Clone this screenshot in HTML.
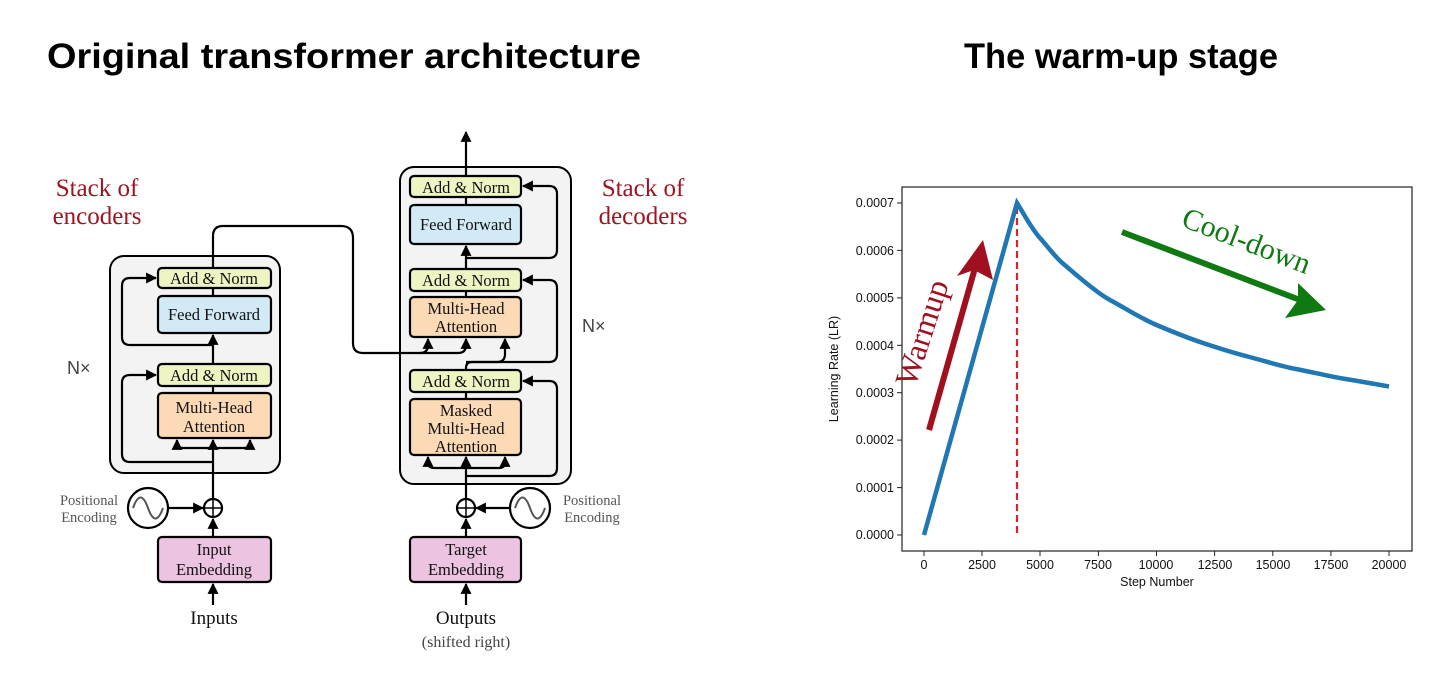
<!DOCTYPE html>
<html><head><meta charset="utf-8"><style>
html,body{margin:0;padding:0;background:#fff;width:1456px;height:681px;overflow:hidden}
svg{display:block}
.t{font-family:"Liberation Serif",serif;fill:#111}
.s{font-family:"Liberation Sans",sans-serif}
</style></head><body>
<svg width="1456" height="681" viewBox="0 0 1456 681" xmlns="http://www.w3.org/2000/svg">
<defs>
<marker id="a" viewBox="0 0 10 10" refX="9" refY="5" markerWidth="5" markerHeight="5" orient="auto"><path d="M0,0L10,5L0,10z" fill="#000"/></marker>
</defs>
<text x="344" y="68" text-anchor="middle" class="s" font-weight="bold" font-size="35" textLength="594" lengthAdjust="spacingAndGlyphs">Original transformer architecture</text>
<text x="1121" y="68" text-anchor="middle" class="s" font-weight="bold" font-size="35" textLength="314" lengthAdjust="spacingAndGlyphs">The warm-up stage</text>

<rect x="110" y="256" width="170" height="217" rx="14" fill="#f3f3f3" stroke="#000" stroke-width="2"/>
<rect x="400" y="167" width="171" height="317" rx="14" fill="#f3f3f3" stroke="#000" stroke-width="2"/>

<g fill="none" stroke="#000" stroke-width="2.2">
<line x1="213" y1="605" x2="213" y2="584" marker-end="url(#a)"/>
<line x1="213" y1="537" x2="213" y2="519" marker-end="url(#a)"/>
<line x1="168" y1="508" x2="203" y2="508" marker-end="url(#a)"/>
<line x1="213" y1="499" x2="213" y2="440" marker-end="url(#a)"/>
<path d="M213,448H183q-6,0-6,-6V440" marker-end="url(#a)"/>
<path d="M213,448H244q6,0,6,-6V440" marker-end="url(#a)"/>
<path d="M213,462H130q-8,0-8,-8V383q0,-8,8,-8H156" marker-end="url(#a)"/>
<line x1="213" y1="393" x2="213" y2="386"/>
<line x1="213" y1="363" x2="213" y2="335" marker-end="url(#a)"/>
<path d="M213,345H130q-8,0-8,-8V286q0,-8,8,-8H156" marker-end="url(#a)"/>
<line x1="213" y1="296" x2="213" y2="288"/>
<path d="M213,268V236q0,-10,10,-10H341q12,0,12,12V343q0,10,10,10H420q8,0,8,-8V339" marker-end="url(#a)"/>
<path d="M420,353H458q8,0,8,-8V339" marker-end="url(#a)"/>
<line x1="466" y1="605" x2="466" y2="584" marker-end="url(#a)"/>
<line x1="466" y1="537" x2="466" y2="519" marker-end="url(#a)"/>
<line x1="510" y1="508" x2="476" y2="508" marker-end="url(#a)"/>
<line x1="466" y1="499" x2="466" y2="457" marker-end="url(#a)"/>
<path d="M466,468H434q-6,0-6,-6V457" marker-end="url(#a)"/>
<path d="M466,468H499q6,0,6,-6V457" marker-end="url(#a)"/>
<path d="M466,476H549q8,0,8,-8V389q0,-8,-8,-8H523" marker-end="url(#a)"/>
<line x1="466" y1="399" x2="466" y2="392"/>
<path d="M466,370V368q0,-6,6,-6H497q8,0,8,-8V339" marker-end="url(#a)"/>
<path d="M466,362H549q8,0,8,-8V288q0,-8,-8,-8H523" marker-end="url(#a)"/>
<line x1="466" y1="297" x2="466" y2="291"/>
<line x1="466" y1="269" x2="466" y2="246" marker-end="url(#a)"/>
<path d="M466,258H549q8,0,8,-8V194q0,-8,-8,-8H523" marker-end="url(#a)"/>
<line x1="466" y1="205" x2="466" y2="197"/>
<line x1="466" y1="175" x2="466" y2="132" marker-end="url(#a)"/>
</g>

<g stroke="#000" stroke-width="2.2">
<rect x="158" y="268" width="113" height="20" rx="4" fill="#eff5c2"/>
<rect x="158" y="296" width="113" height="37" rx="4" fill="#d2e9f6"/>
<rect x="158" y="364" width="113" height="22" rx="4" fill="#eff5c2"/>
<rect x="158" y="393" width="113" height="45" rx="4" fill="#fcdab6"/>
<rect x="158" y="537" width="113" height="45" rx="4" fill="#edc3e2"/>
<rect x="410" y="176" width="111" height="21" rx="4" fill="#eff5c2"/>
<rect x="410" y="205" width="111" height="39" rx="4" fill="#d2e9f6"/>
<rect x="410" y="269" width="111" height="22" rx="4" fill="#eff5c2"/>
<rect x="410" y="297" width="111" height="40" rx="4" fill="#fcdab6"/>
<rect x="410" y="370" width="111" height="22" rx="4" fill="#eff5c2"/>
<rect x="410" y="399" width="111" height="56" rx="4" fill="#fcdab6"/>
<rect x="410" y="537" width="111" height="45" rx="4" fill="#edc3e2"/>
<circle cx="213" cy="508" r="9" fill="#fff"/>
<circle cx="466" cy="508" r="9" fill="#fff"/>
<circle cx="148" cy="508" r="20" fill="#fff"/>
<circle cx="530" cy="508" r="20" fill="#fff"/>
</g>
<g stroke="#000" stroke-width="1.5">
<line x1="204" y1="508" x2="222" y2="508"/><line x1="213" y1="499" x2="213" y2="517"/>
<line x1="457" y1="508" x2="475" y2="508"/><line x1="466" y1="499" x2="466" y2="517"/>
</g>
<g fill="none" stroke="#555" stroke-width="2">
<path d="M133,508c5,-14 10,-14 15,0s10,14 15,0"/>
<path d="M515,508c5,-14 10,-14 15,0s10,14 15,0"/>
</g>
<g class="t" font-size="16.5" text-anchor="middle">
<text x="214" y="284">Add &amp; Norm</text>
<text x="214" y="320">Feed Forward</text>
<text x="214" y="381">Add &amp; Norm</text>
<text x="214" y="413">Multi-Head</text><text x="214" y="432">Attention</text>
<text x="214" y="555">Input</text><text x="214" y="575">Embedding</text>
<text x="466" y="193">Add &amp; Norm</text>
<text x="466" y="230">Feed Forward</text>
<text x="466" y="286">Add &amp; Norm</text>
<text x="466" y="314">Multi-Head</text><text x="466" y="332">Attention</text>
<text x="466" y="387">Add &amp; Norm</text>
<text x="466" y="416">Masked</text><text x="466" y="434">Multi-Head</text><text x="466" y="452">Attention</text>
<text x="466" y="555">Target</text><text x="466" y="575">Embedding</text>
<text x="214" y="624" font-size="19">Inputs</text>
<text x="466" y="624" font-size="19">Outputs</text>
<text x="466" y="647" font-size="16" fill="#444">(shifted right)</text>
</g>
<g font-family="Liberation Serif,serif" font-size="14.5" fill="#555" text-anchor="middle">
<text x="89" y="505">Positional</text><text x="89" y="522">Encoding</text>
<text x="592" y="505">Positional</text><text x="592" y="522">Encoding</text>
</g>
<g class="s" font-size="18" fill="#444">
<text x="67" y="374">N×</text><text x="582" y="332">N×</text>
</g>
<g font-family="Liberation Serif,serif" font-size="25" fill="#9b1520" text-anchor="middle">
<text x="97" y="196">Stack of</text><text x="97" y="224">encoders</text>
<text x="643" y="196">Stack of</text><text x="643" y="224">decoders</text>
</g>

<rect x="902" y="187" width="510" height="364" fill="none" stroke="#222" stroke-width="1.2"/>
<g stroke="#222" stroke-width="1">
<line x1="897" y1="203" x2="902" y2="203"/><line x1="897" y1="250.4" x2="902" y2="250.4"/><line x1="897" y1="297.9" x2="902" y2="297.9"/><line x1="897" y1="345.3" x2="902" y2="345.3"/><line x1="897" y1="392.7" x2="902" y2="392.7"/><line x1="897" y1="440.1" x2="902" y2="440.1"/><line x1="897" y1="487.6" x2="902" y2="487.6"/><line x1="897" y1="535" x2="902" y2="535"/>
<line x1="924" y1="551" x2="924" y2="556"/><line x1="982" y1="551" x2="982" y2="556"/><line x1="1040" y1="551" x2="1040" y2="556"/><line x1="1098.4" y1="551" x2="1098.4" y2="556"/><line x1="1156.5" y1="551" x2="1156.5" y2="556"/><line x1="1214.6" y1="551" x2="1214.6" y2="556"/><line x1="1272.8" y1="551" x2="1272.8" y2="556"/><line x1="1330.9" y1="551" x2="1330.9" y2="556"/><line x1="1389" y1="551" x2="1389" y2="556"/>
</g>
<g class="s" font-size="12.5" fill="#111" text-anchor="end">
<text x="894" y="207">0.0007</text><text x="894" y="255">0.0006</text><text x="894" y="302">0.0005</text><text x="894" y="350">0.0004</text><text x="894" y="397">0.0003</text><text x="894" y="444">0.0002</text><text x="894" y="492">0.0001</text><text x="894" y="539">0.0000</text>
</g>
<g class="s" font-size="12.5" fill="#111" text-anchor="middle">
<text x="924" y="569">0</text><text x="982" y="569">2500</text><text x="1040" y="569">5000</text><text x="1098" y="569">7500</text><text x="1156" y="569">10000</text><text x="1215" y="569">12500</text><text x="1273" y="569">15000</text><text x="1331" y="569">17500</text><text x="1389" y="569">20000</text>
<text x="1157" y="586">Step Number</text>
<text transform="translate(838,369) rotate(-90)">Learning Rate (LR)</text>
</g>
<line x1="1017" y1="207" x2="1017" y2="535" stroke="#d62728" stroke-width="2.2" stroke-dasharray="7,4"/>
<path d="M924,535L1017,203C1024,214 1031,228 1040,238S1055,257 1063.5,264S1095,292 1110,300S1140,318 1156.5,325S1188,338 1203,343S1234,353 1249.5,357S1280,366 1296,369S1327,376 1342.5,378.5S1375,384 1389,386.5" fill="none" stroke="#1f77b4" stroke-width="4.5"/>
<line x1="929" y1="430" x2="975" y2="268" stroke="#a0101f" stroke-width="6"/>
<path d="M983,240L993,280L974,270L957,276z" fill="#a0101f"/>
<text transform="translate(932,336) rotate(-72)" text-anchor="middle" font-family="Liberation Serif,serif" font-size="32" fill="#a0101f">Warmup</text>
<line x1="1122" y1="232" x2="1300" y2="300" stroke="#0f7a12" stroke-width="6"/>
<path d="M1326,310L1285,318L1298,300L1298,283z" fill="#0f7a12"/>
<text transform="translate(1243,250) rotate(21)" text-anchor="middle" font-family="Liberation Serif,serif" font-size="30" fill="#0f7a12">Cool-down</text>
</svg>
</body></html>
